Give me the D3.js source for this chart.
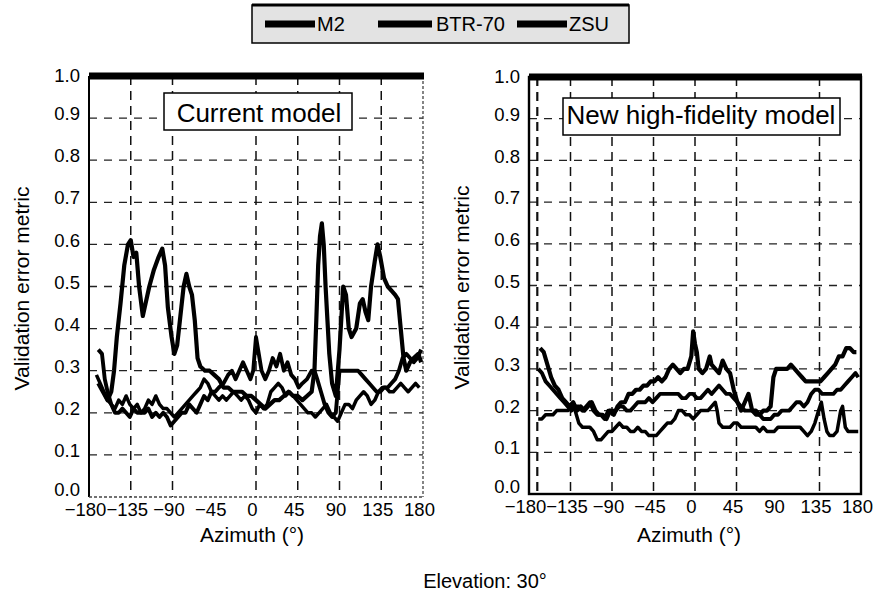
<!DOCTYPE html>
<html>
<head>
<meta charset="utf-8">
<script src="https://cdn.jsdelivr.net/npm/d3@7/dist/d3.min.js"></script>
<style>
  html, body { margin: 0; padding: 0; background: #fff; }
  svg { display: block; font-family: "Liberation Sans", Arial, sans-serif; }
</style>
</head>
<body>
<svg id="chart" width="879" height="599"></svg>
<script>
// ---------------- DATA ----------------
const seriesNames = ["M2", "BTR-70", "ZSU"];
const xTicks = [-180, -135, -90, -45, 0, 45, 90, 135, 180];
const xTickLabels = ["\u2212180", "\u2212135", "\u221290", "\u221245", "0", "45", "90", "135", "180"];
const yTicks = [0.0, 0.1, 0.2, 0.3, 0.4, 0.5, 0.6, 0.7, 0.8, 0.9, 1.0];
const yTickLabels = ["0.0","0.1","0.2","0.3","0.4","0.5","0.6","0.7","0.8","0.9","1.0"];
const panelTitles = ["Current model", "New high-fidelity model"];
const xGridLeft = [-135, -90, 0, 45, 90, 135];
const xGridRight = [-171, -135, -90, -45, 0, 45, 135];

// Current model (left panel): [azimuth, error]
const currentM2 = [[-170,0.27],[-165,0.25],[-160,0.23],[-156,0.25],[-153,0.3],[-150,0.38],[-146,0.46],[-142,0.55],[-138,0.6],[-135,0.61],[-132,0.57],[-129,0.58],[-126,0.5],[-122,0.43],[-119,0.46],[-115,0.5],[-110,0.54],[-105,0.57],[-101,0.59],[-98,0.55],[-95,0.45],[-91,0.38],[-88,0.34],[-85,0.36],[-82,0.42],[-78,0.5],[-75,0.53],[-72,0.5],[-69,0.48],[-66,0.42],[-63,0.33],[-60,0.31],[-55,0.3],[-50,0.3],[-45,0.29],[-40,0.28],[-35,0.26],[-30,0.26],[-25,0.25],[-20,0.25],[-15,0.25],[-10,0.24],[-5,0.24],[0,0.23],[5,0.22],[10,0.21],[15,0.22],[20,0.23],[25,0.23],[30,0.24],[35,0.25],[40,0.24],[45,0.24],[50,0.23],[55,0.24],[60,0.25],[63,0.3],[65,0.42],[67,0.55],[69,0.62],[71,0.65],[73,0.6],[75,0.5],[77,0.42],[79,0.34],[82,0.27],[86,0.24],[90,0.35],[94,0.5],[97,0.48],[100,0.4],[103,0.38],[108,0.4],[112,0.46],[115,0.47],[118,0.44],[121,0.42],[124,0.5],[128,0.56],[131,0.6],[134,0.57],[138,0.52],[142,0.5],[146,0.49],[150,0.48],[153,0.47],[156,0.4],[159,0.33],[162,0.3],[166,0.32],[170,0.33],[175,0.34],[178,0.32]];
const currentBTR = [[-170,0.35],[-166,0.34],[-163,0.28],[-160,0.25],[-156,0.22],[-152,0.2],[-148,0.2],[-144,0.21],[-140,0.2],[-136,0.19],[-132,0.21],[-128,0.2],[-124,0.2],[-120,0.2],[-116,0.21],[-112,0.19],[-108,0.2],[-104,0.19],[-100,0.2],[-96,0.19],[-92,0.17],[-88,0.18],[-84,0.19],[-80,0.2],[-76,0.2],[-72,0.22],[-68,0.21],[-64,0.2],[-60,0.22],[-56,0.24],[-52,0.23],[-48,0.25],[-44,0.25],[-40,0.26],[-35,0.27],[-30,0.29],[-26,0.3],[-22,0.28],[-18,0.3],[-14,0.32],[-10,0.3],[-6,0.28],[-3,0.3],[0,0.38],[3,0.34],[6,0.3],[10,0.28],[14,0.3],[18,0.33],[22,0.31],[26,0.34],[30,0.3],[34,0.32],[38,0.29],[42,0.28],[46,0.26],[50,0.27],[55,0.28],[60,0.3],[63,0.3],[66,0.28],[70,0.25],[74,0.22],[78,0.2],[82,0.19],[86,0.2],[88,0.25],[90,0.3],[94,0.3],[98,0.3],[102,0.3],[106,0.3],[110,0.3],[114,0.29],[118,0.28],[122,0.27],[126,0.26],[130,0.25],[134,0.25],[138,0.26],[142,0.26],[146,0.27],[150,0.28],[154,0.3],[158,0.33],[162,0.34],[166,0.33],[170,0.32],[174,0.33],[178,0.35]];
const currentZSU = [[-172,0.29],[-168,0.27],[-164,0.25],[-160,0.23],[-156,0.22],[-152,0.21],[-148,0.23],[-144,0.22],[-140,0.24],[-136,0.22],[-132,0.21],[-128,0.22],[-124,0.2],[-120,0.21],[-116,0.23],[-112,0.22],[-108,0.24],[-104,0.22],[-100,0.21],[-96,0.21],[-92,0.2],[-88,0.19],[-84,0.2],[-80,0.21],[-76,0.22],[-72,0.23],[-68,0.24],[-64,0.25],[-60,0.26],[-56,0.28],[-52,0.27],[-48,0.25],[-44,0.24],[-40,0.23],[-36,0.24],[-32,0.23],[-28,0.24],[-24,0.25],[-20,0.24],[-16,0.23],[-12,0.24],[-8,0.23],[-4,0.21],[0,0.2],[4,0.22],[8,0.21],[12,0.22],[16,0.25],[20,0.26],[24,0.27],[28,0.26],[32,0.24],[36,0.25],[40,0.24],[44,0.23],[48,0.22],[52,0.21],[56,0.2],[60,0.2],[64,0.19],[68,0.2],[72,0.21],[76,0.22],[80,0.2],[84,0.19],[88,0.18],[92,0.2],[96,0.22],[100,0.22],[104,0.21],[108,0.23],[112,0.24],[116,0.25],[120,0.24],[124,0.22],[128,0.23],[132,0.25],[136,0.26],[140,0.26],[144,0.25],[148,0.25],[152,0.26],[156,0.27],[160,0.26],[164,0.25],[168,0.26],[172,0.27],[176,0.26]];

// New high-fidelity model (right panel)
const newM2 = [[-168,0.35],[-164,0.34],[-160,0.31],[-156,0.28],[-152,0.26],[-148,0.25],[-144,0.23],[-140,0.22],[-136,0.21],[-132,0.22],[-128,0.2],[-124,0.21],[-120,0.2],[-116,0.21],[-112,0.22],[-108,0.2],[-104,0.19],[-100,0.19],[-96,0.18],[-92,0.2],[-88,0.19],[-84,0.21],[-80,0.22],[-76,0.22],[-72,0.24],[-68,0.24],[-64,0.25],[-60,0.25],[-56,0.26],[-52,0.26],[-48,0.27],[-44,0.27],[-40,0.28],[-36,0.27],[-32,0.28],[-28,0.3],[-24,0.31],[-20,0.3],[-16,0.29],[-12,0.3],[-8,0.3],[-4,0.33],[-2,0.39],[0,0.36],[2,0.34],[4,0.3],[8,0.29],[12,0.3],[16,0.33],[18,0.31],[22,0.3],[26,0.29],[30,0.32],[34,0.3],[38,0.29],[42,0.25],[46,0.22],[50,0.2],[54,0.22],[58,0.24],[62,0.2],[66,0.2],[70,0.19],[74,0.2],[78,0.2],[82,0.21],[85,0.28],[88,0.3],[92,0.3],[96,0.3],[100,0.3],[104,0.31],[108,0.3],[112,0.29],[116,0.28],[120,0.27],[124,0.27],[128,0.27],[132,0.27],[136,0.27],[140,0.28],[144,0.29],[148,0.3],[152,0.31],[156,0.33],[160,0.33],[164,0.35],[168,0.35],[172,0.34],[175,0.34]];
const newBTR = [[-170,0.3],[-166,0.29],[-162,0.27],[-158,0.26],[-154,0.25],[-150,0.24],[-146,0.23],[-142,0.22],[-138,0.21],[-134,0.2],[-130,0.21],[-126,0.21],[-122,0.2],[-118,0.21],[-114,0.22],[-110,0.2],[-106,0.19],[-102,0.19],[-98,0.18],[-94,0.2],[-90,0.2],[-86,0.2],[-82,0.21],[-78,0.21],[-74,0.2],[-70,0.2],[-66,0.21],[-62,0.22],[-58,0.22],[-54,0.22],[-50,0.23],[-46,0.22],[-42,0.23],[-38,0.24],[-34,0.24],[-30,0.24],[-26,0.24],[-22,0.24],[-18,0.24],[-14,0.23],[-10,0.23],[-6,0.24],[-2,0.24],[2,0.23],[6,0.23],[10,0.24],[14,0.25],[18,0.24],[22,0.25],[26,0.26],[30,0.25],[34,0.24],[38,0.24],[42,0.23],[46,0.22],[50,0.21],[54,0.2],[58,0.2],[62,0.2],[66,0.19],[70,0.19],[74,0.18],[78,0.18],[82,0.18],[86,0.19],[90,0.19],[94,0.2],[98,0.2],[102,0.2],[106,0.21],[110,0.22],[114,0.22],[118,0.21],[122,0.22],[126,0.24],[130,0.25],[134,0.25],[138,0.24],[142,0.24],[146,0.24],[150,0.24],[154,0.25],[158,0.25],[162,0.26],[166,0.27],[170,0.28],[174,0.29],[177,0.28]];
const newZSU = [[-170,0.18],[-166,0.18],[-162,0.19],[-158,0.19],[-154,0.19],[-150,0.2],[-146,0.2],[-142,0.2],[-138,0.2],[-134,0.21],[-130,0.2],[-126,0.17],[-122,0.16],[-118,0.16],[-114,0.16],[-110,0.15],[-106,0.13],[-102,0.13],[-98,0.14],[-94,0.15],[-90,0.15],[-86,0.16],[-82,0.17],[-78,0.16],[-74,0.16],[-70,0.15],[-66,0.15],[-62,0.16],[-58,0.15],[-54,0.15],[-50,0.14],[-46,0.14],[-42,0.14],[-38,0.15],[-34,0.16],[-30,0.17],[-26,0.17],[-22,0.18],[-18,0.2],[-14,0.2],[-10,0.19],[-6,0.19],[-2,0.18],[2,0.19],[6,0.2],[10,0.2],[14,0.2],[18,0.21],[22,0.22],[24,0.2],[26,0.17],[30,0.16],[34,0.16],[38,0.16],[42,0.17],[46,0.17],[50,0.16],[54,0.16],[58,0.16],[62,0.16],[66,0.16],[70,0.15],[74,0.16],[78,0.15],[82,0.15],[86,0.15],[90,0.16],[94,0.16],[98,0.16],[102,0.16],[106,0.16],[110,0.16],[114,0.16],[118,0.15],[122,0.14],[126,0.15],[130,0.17],[134,0.2],[137,0.22],[140,0.18],[143,0.15],[146,0.14],[150,0.14],[154,0.15],[158,0.2],[160,0.21],[163,0.16],[166,0.15],[170,0.15],[174,0.15],[177,0.15]];

const panelSeries = [
  [currentM2, currentBTR, currentZSU],
  [newM2, newBTR, newZSU]
];

// ---------------- LAYOUT ----------------
const svg = d3.select("#chart");
const panels = [
  { x0: 89, x1: 423, yTop: 76, yBot: 497, grid: xGridLeft, title: panelTitles[0],
    box: { x: 164, y: 93, w: 188, h: 37 }, titleX: 259, titleY: 122, ylabX: 29, xlabX: 252, solidFrame: false },
  { x0: 529, x1: 861, yTop: 77, yBot: 494, grid: xGridRight, title: panelTitles[1],
    box: { x: 563, y: 98, w: 277, h: 37 }, titleX: 701, titleY: 124, ylabX: 469, xlabX: 689, solidFrame: true }
];
const strokeW = [4.2, 3.9, 3.5];
const tickFont = 18.5;

panels.forEach((p, pi) => {
  const x = d3.scaleLinear().domain([-180, 180]).range([p.x0, p.x1]);
  const y = d3.scaleLinear().domain([0, 1]).range([p.yBot, p.yTop]);
  const g = svg.append("g");

  // horizontal grid
  g.selectAll("line.hg").data(yTicks.slice(1, 10)).enter().append("line")
    .attr("x1", p.x0).attr("x2", p.x1)
    .attr("y1", d => y(d)).attr("y2", d => y(d))
    .attr("stroke", "#222").attr("stroke-width", 1.3).attr("stroke-dasharray", "8,7");
  // vertical grid
  g.selectAll("line.vg").data(p.grid).enter().append("line")
    .attr("x1", d => x(d)).attr("x2", d => x(d))
    .attr("y1", p.yTop).attr("y2", p.yBot)
    .attr("stroke", "#111").attr("stroke-width", d => d === -171 ? 2.2 : 1.5)
    .attr("stroke-dasharray", "9,6");

  // frame
  if (p.solidFrame) {
    g.append("rect").attr("x", p.x0).attr("y", p.yTop).attr("width", p.x1 - p.x0).attr("height", p.yBot - p.yTop)
      .attr("fill", "none").attr("stroke", "#000").attr("stroke-width", 2.4);
  } else {
    g.append("line").attr("x1", p.x0).attr("x2", p.x0).attr("y1", p.yTop).attr("y2", p.yBot)
      .attr("stroke", "#000").attr("stroke-width", 2);
    g.append("line").attr("x1", p.x1).attr("x2", p.x1).attr("y1", p.yTop).attr("y2", p.yBot)
      .attr("stroke", "#444").attr("stroke-width", 1.3).attr("stroke-dasharray", "3,2");
    g.append("line").attr("x1", p.x0).attr("x2", p.x1).attr("y1", p.yBot).attr("y2", p.yBot)
      .attr("stroke", "#444").attr("stroke-width", 1.3).attr("stroke-dasharray", "3,2");
  }
  // thick top bar
  g.append("line").attr("x1", p.x0).attr("x2", p.x1 + 1).attr("y1", p.yTop).attr("y2", p.yTop)
    .attr("stroke", "#000").attr("stroke-width", 7);

  // axes (labels only)
  const xAxis = d3.axisBottom(x).tickValues(xTicks).tickSize(0).tickPadding(0)
    .tickFormat((d, i) => xTickLabels[i]);
  const xa = g.append("g").attr("transform", `translate(-4,${p.yBot})`).call(xAxis);
  xa.select(".domain").remove();
  xa.selectAll("text").attr("y", 19).attr("dy", 0).attr("font-size", tickFont)
    .attr("font-family", "Liberation Sans, Arial, sans-serif").attr("fill", "#000");

  const yAxis = d3.axisLeft(y).tickValues(yTicks).tickSize(0).tickPadding(9)
    .tickFormat((d, i) => yTickLabels[i]);
  const ya = g.append("g").attr("transform", `translate(${p.x0},0)`).call(yAxis);
  ya.select(".domain").remove();
  ya.selectAll("text").attr("font-size", tickFont).attr("dy", "0.36em")
    .attr("y", d => d === 1 ? -1 : (d === 0 ? -8 : -5))
    .attr("font-family", "Liberation Sans, Arial, sans-serif").attr("fill", "#000");

  // series lines
  const line = d3.line().x(d => x(d[0])).y(d => y(d[1]));
  panelSeries[pi].forEach((s, si) => {
    g.append("path").datum(s).attr("d", line)
      .attr("fill", "none").attr("stroke", "#000")
      .attr("stroke-width", strokeW[si]).attr("stroke-linejoin", "round");
  });

  // panel title box
  g.append("rect").attr("x", p.box.x).attr("y", p.box.y).attr("width", p.box.w).attr("height", p.box.h)
    .attr("fill", "#fff").attr("stroke", "#000").attr("stroke-width", 1.5);
  g.append("text").attr("x", p.titleX).attr("y", p.titleY).attr("text-anchor", "middle")
    .attr("font-size", 26).attr("fill", "#000").text(p.title);

  // axis titles
  g.append("text").attr("x", p.xlabX).attr("y", 542).attr("text-anchor", "middle")
    .attr("font-size", 21).attr("fill", "#000").text("Azimuth (\u00B0)");
  g.append("text").attr("transform", `translate(${p.ylabX},${(p.yTop + p.yBot) / 2 + 2}) rotate(-90)`)
    .attr("text-anchor", "middle").attr("font-size", 21).attr("fill", "#000").text("Validation error metric");
});

// ---------------- LEGEND ----------------
const legend = svg.append("g");
legend.append("rect").attr("x", 252).attr("y", 5).attr("width", 377).attr("height", 38)
  .attr("fill", "#e3e3e3").attr("stroke", "#000").attr("stroke-width", 1.5);
legend.append("line").attr("x1", 252).attr("x2", 629).attr("y1", 5).attr("y2", 5)
  .attr("stroke", "#000").attr("stroke-width", 3);
const legendLineX = [265, 378, 517];
const legendLineW = [50, 54, 50];
const legendTextX = [317, 436, 569];
seriesNames.forEach((n, i) => {
  legend.append("line").attr("x1", legendLineX[i]).attr("x2", legendLineX[i] + legendLineW[i])
    .attr("y1", 24).attr("y2", 24).attr("stroke", "#000").attr("stroke-width", 7);
  legend.append("text").attr("x", legendTextX[i]).attr("y", 31).attr("font-size", 20)
    .attr("fill", "#000").text(n);
});

// ---------------- FOOTER ----------------
svg.append("text").attr("x", 485).attr("y", 588).attr("text-anchor", "middle")
  .attr("font-size", 20).attr("fill", "#000").text("Elevation: 30\u00B0");
</script>
</body>
</html>
